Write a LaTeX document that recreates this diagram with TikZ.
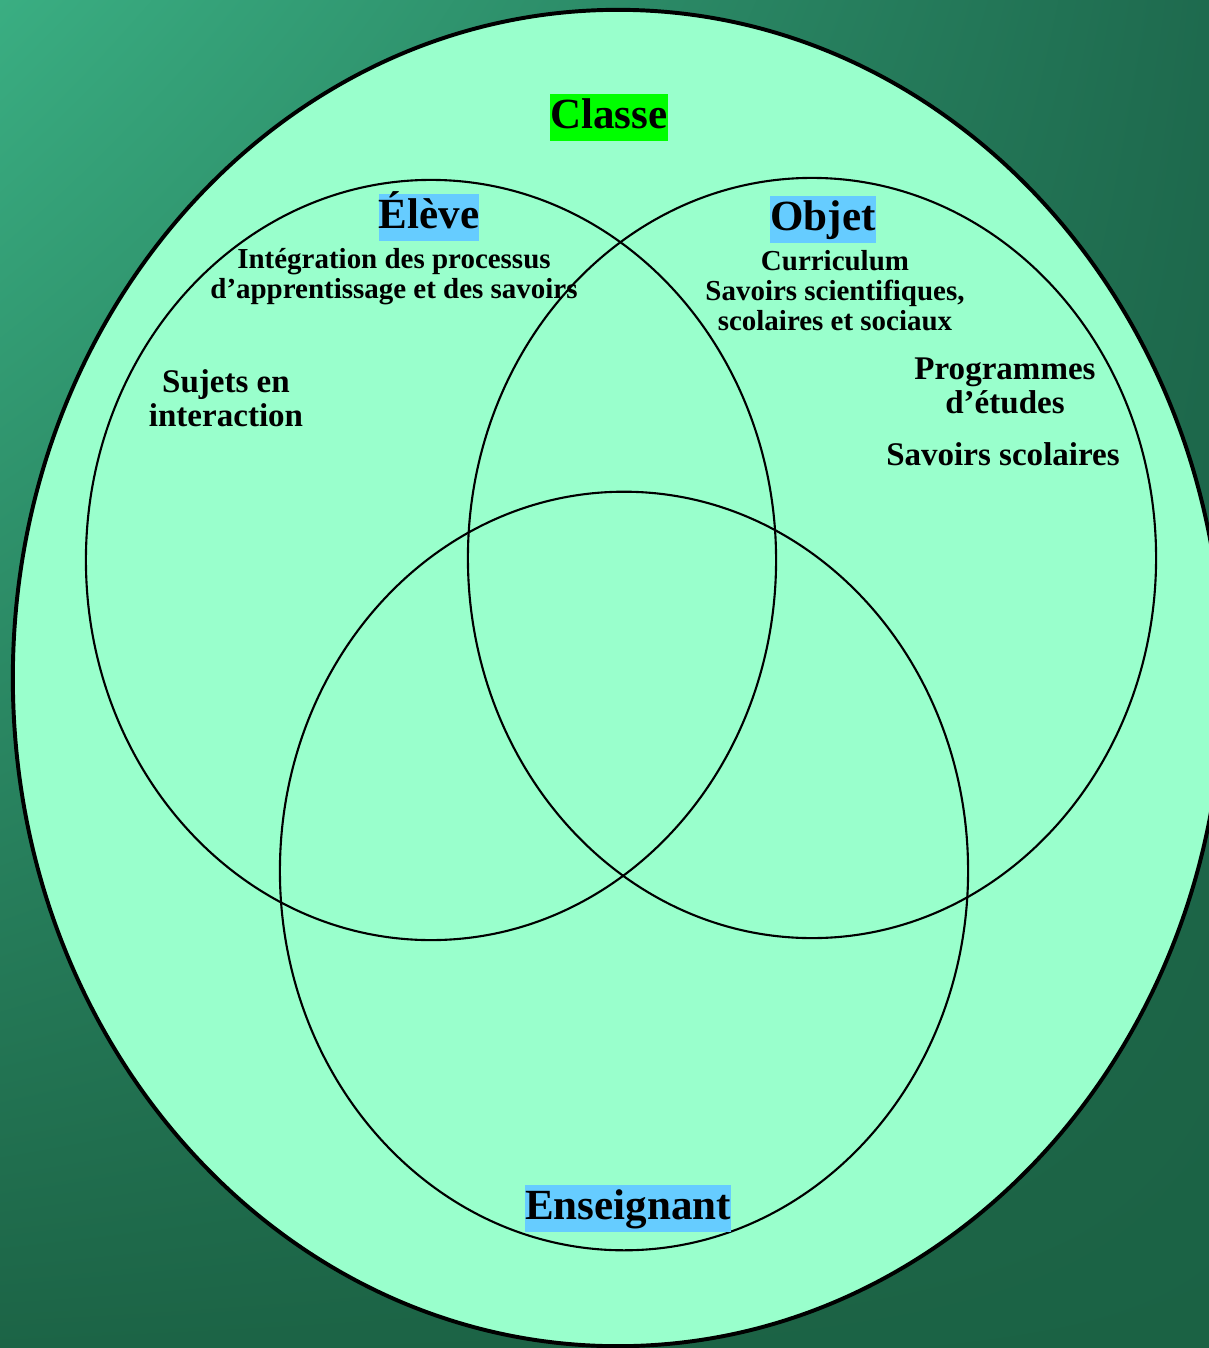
\documentclass[tikz,border=0pt]{standalone}
\usepackage{fontspec}
\setmainfont{Liberation Serif}
\usetikzlibrary{positioning, shadings}

\definecolor{bgTL}{RGB}{58,174,130}
\definecolor{bgTR}{RGB}{30,106,78}
\definecolor{bgBL}{RGB}{28,100,70}
\definecolor{bgBR}{RGB}{27,98,68}
\definecolor{mint}{HTML}{99FFCC}
\definecolor{tagblue}{HTML}{66CCFF}
\definecolor{taggreen}{HTML}{00FF00}

\begin{document}
\begin{tikzpicture}[
    x=0.025cm, y=-0.025cm,
    ring/.style={draw, line width=1.5pt},
    tag/.style={font=\fontsize{30.6}{33}\selectfont\bfseries,
                inner xsep=0pt, inner ysep=0pt,
                text height=24.2pt, text depth=9.3pt, anchor=base},
    small/.style={font=\fontsize{20.6}{21.3}\selectfont\bfseries,
                  align=center, inner sep=0pt},
    mid/.style={font=\fontsize{23.5}{23.9}\selectfont\bfseries,
                align=center, inner sep=0pt}
  ]
  \useasboundingbox (0,0) rectangle (1209,1348);
  \clip (0,0) rectangle (1209,1348);
  \shade[upper left=bgTL, upper right=bgTR, lower left=bgBL, lower right=bgBR]
    (0,0) rectangle (1209,1348);

  % Classe
  \coordinate (classe) at (618,678);
  \draw[fill=mint, line width=2.8pt] (classe) ellipse [x radius=15.125cm, y radius=16.7cm];
  \node[tag, fill=taggreen] (classeTag) at (609,128) {Classe};

  % Three sets
  \coordinate (eleve) at (431,560);
  \coordinate (objet) at (812,558);
  \coordinate (ens) at (624,871);
  \draw[ring] (eleve) ellipse [x radius=8.625cm, y radius=9.5cm];
  \draw[ring] (objet) ellipse [x radius=8.6cm, y radius=9.5cm];
  \draw[ring] (ens) ellipse [x radius=8.6cm, y radius=9.48cm];

  % Eleve
  \node[tag, fill=tagblue] (eleveTag) at (429,228) {Élève};
  \node[small] (integ) at (394,277)
    {Intégration des processus\\d’apprentissage et des savoirs};
  \node[mid] (sujets) at (226,398) {Sujets en\\interaction};

  % Objet
  \node[tag, fill=tagblue] (objetTag) at (823,230) {Objet};
  \node[small] (curric) at (835,291)
    {Curriculum\\Savoirs scientifiques,\\scolaires et sociaux};
  \node[mid] (progr) at (1005,386) {Programmes\\d’études};
  \node[mid, anchor=base] (savsc) at (1003,465) {Savoirs scolaires};

  % Enseignant
  \node[tag, fill=tagblue] (ensTag) at (628,1219) {Enseignant};
\end{tikzpicture}
\end{document}
